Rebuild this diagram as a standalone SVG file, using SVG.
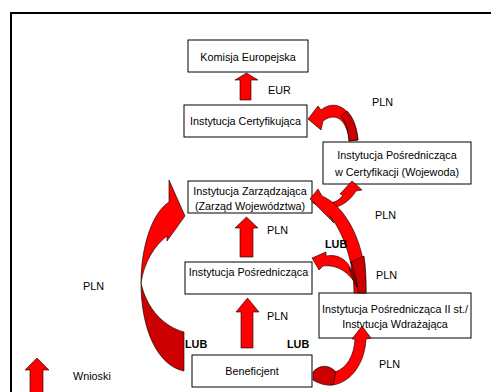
<svg xmlns="http://www.w3.org/2000/svg" width="491" height="392" viewBox="0 0 491 392">
<style>
.box{fill:#fff;stroke:#000;stroke-width:1}
.t{font-family:"Liberation Sans",Arial,sans-serif;font-size:10.8px;fill:#000}
.c{text-anchor:middle}
.b{font-weight:bold}
.ar{fill:#ff0000;stroke:#000;stroke-width:0.6;stroke-linejoin:miter}
.dk{fill:#cc0000;stroke:#000;stroke-width:0.6}
.frame{fill:none;stroke:#000;stroke-width:2}
</style>
<rect width="491" height="392" fill="#fff"/>
<path class="frame" d="M11,392 V13 H491"/>

<g id="nodes">
<g id="komisja"><rect class="box" x="188" y="40" width="120" height="32"/><text class="t c" x="248" y="60.5">Komisja Europejska</text></g>
<g id="certyfikujaca"><rect class="box" x="184" y="105" width="123" height="32"/><text class="t c" x="245.5" y="125">Instytucja Certyfikująca</text></g>
<g id="wojewoda"><rect class="box" x="323" y="142" width="148" height="42"/><text class="t c" x="397" y="159">Instytucja Pośrednicząca</text><text class="t c" x="397" y="176">w Certyfikacji (Wojewoda)</text></g>
<g id="zarzadzajaca"><rect class="box" x="188" y="181" width="124" height="32"/><text class="t c" x="250" y="195">Instytucja Zarządzająca</text><text class="t c" x="250" y="209.5">(Zarząd Województwa)</text></g>
<g id="posredniczaca"><rect class="box" x="185" y="262" width="127" height="32"/><text class="t c" x="248.5" y="276">Instytucja Pośrednicząca</text></g>
<g id="wdrazajaca"><rect class="box" x="319" y="293" width="152" height="45"/><text class="t c" x="395" y="313">Instytucja Pośrednicząca II st./</text><text class="t c" x="395" y="328">Instytucja Wdrażająca</text></g>
<g id="beneficjent"><rect class="box" x="192" y="355" width="120" height="32"/><text class="t c" x="252" y="375">Beneficjent</text></g>
</g>

<g id="connectors">
<!-- straight up arrows -->
<path class="ar" d="M246.5,73 L258,80 L251,80 L251,100 L240,100 L240,80 L235,80 Z"/>
<path class="ar" d="M246.5,217 L258,228 L253,228 L253,257 L240,257 L240,228 L235,228 Z"/>
<path class="ar" d="M247.5,298 L259,312 L253,312 L253,348 L241,348 L241,312 L236,312 Z"/>
<!-- Wojewoda -> IC -->
<path class="ar" d="M308,119 L318,106 L321,110 C334,99 354,106 358,140 L349,141 C348,124 338,110 323,121 L321,130 Z"/>
<path class="dk" d="M347,111 C353,117 357,127 358,140 L349,141 C348.5,131 346,122 341,116 Z"/>
<!-- IZ -> Wojewoda -->
<path class="ar" d="M313,201 C325,203 335,206 343,195 L340,194 L352,181 L362,190 L356,191 C348,204 333,214 313,203 Z"/>
<!-- IP II -> IZ (big S) -->
<path class="ar" d="M310,199 L318,189 L322,196 C346,206 367,245 366,293 L354,293 C354,262 343,232 330,216 L334,223 Z"/>
<path class="dk" d="M351,262 L364,256 C366,268 366,280 366,293 L358,293 C357,282 355,272 351,262 Z"/>
<!-- IP II -> IP -->
<path class="ar" d="M312,258 L326,252 L326,256 C341,253 353,263 357,287 C352,276 340,264 323,266 L319,270 Z"/>
<path class="dk" d="M349,268 C353,273 356,280 357,287 L352,277 Z"/>
<!-- Beneficjent -> IP II -->
<path class="ar" d="M335,372 C347,368 354,356 355,339 L352,339 L362,326 L371,338 L366,339 C365,362 352,382 333,385 Z"/>
<path class="dk" d="M313,372 C320,364 330,365 336,372 L333,385 C325,386 318,383 313,380 Z"/>
<!-- Beneficjent -> IZ (big left) -->
<path class="ar" d="M141,283 C141,245 153,212 169,202 L169,180 L185,216 L167,241 L167,236 C155,245 144,262 141,283 Z"/>
<path class="dk" d="M141,283 C141,330 158,366 184,371 L184,332 C165,327 147,310 141,283 Z"/>
<!-- legend arrow -->
<path class="ar" d="M37,358 L49,370 L43,370 L43,393 L30,393 L30,370 L25,370 Z"/>
</g>

<g id="labels">
<text class="t" x="268" y="94">EUR</text>
<text class="t" x="372" y="106">PLN</text>
<text class="t" x="267" y="234">PLN</text>
<text class="t" x="375" y="219">PLN</text>
<text class="t b" x="325" y="248">LUB</text>
<text class="t" x="376" y="279">PLN</text>
<text class="t" x="267" y="320">PLN</text>
<text class="t b" x="185" y="348">LUB</text>
<text class="t b" x="287" y="348">LUB</text>
<text class="t" x="379" y="368">PLN</text>
<text class="t" x="83" y="290">PLN</text>
<text class="t" x="73" y="380">Wnioski</text>
</g>
</svg>
